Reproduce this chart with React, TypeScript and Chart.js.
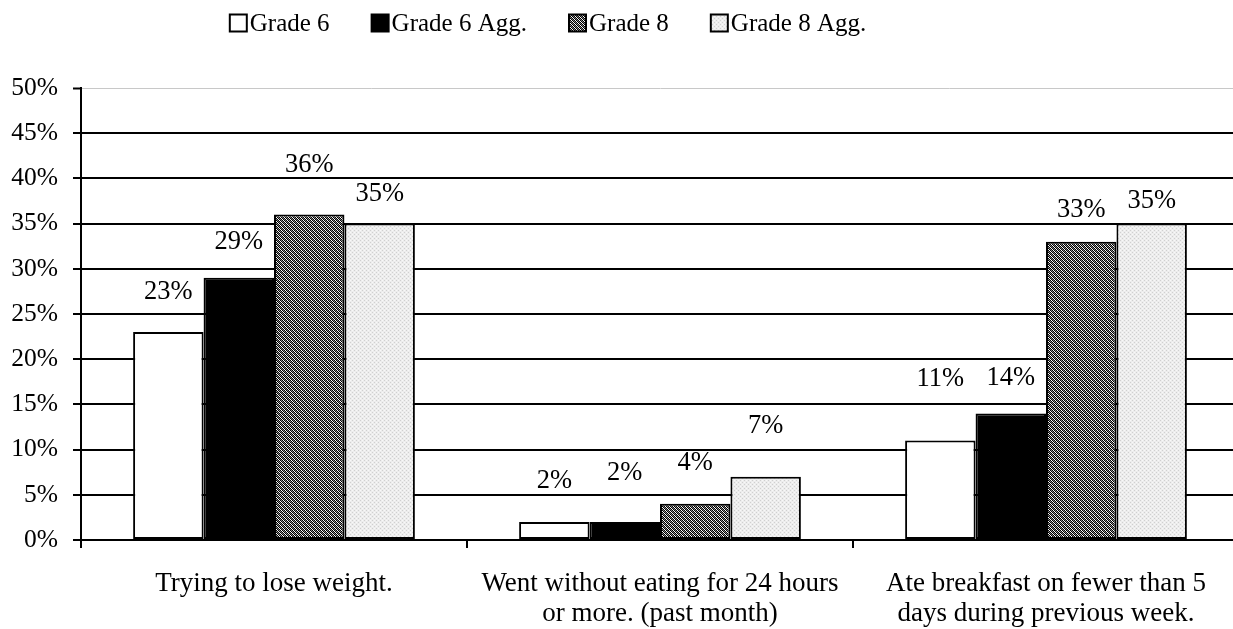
import React, { useEffect, useRef } from "react";
import { Chart, registerables } from "chart.js";

Chart.register(...registerables);

const categories: (string | string[])[] = [
  "Trying to lose weight.",
  ["Went without eating for 24 hours", "or more. (past month)"],
  ["Ate breakfast on fewer than 5", "days during previous week."],
];
const seriesNames = ["Grade 6", "Grade 6 Agg.", "Grade 8", "Grade 8 Agg."];
const grade6 = [23, 2, 11];
const grade6Agg = [29, 2, 14];
const grade8 = [36, 4, 33];
const grade8Agg = [35, 7, 35];
const tickValues = [0, 5, 10, 15, 20, 25, 30, 35, 40, 45, 50];
// vertical lift (px) of each value label above its bar, per series
const labelLift = [
  [40, 41, 62],
  [36, 49, 35],
  [50, 41, 32],
  [30, 51, 23],
];

const FONT = "'Liberation Serif', 'Times New Roman', serif";

function makePattern(kind: "hatch" | "dots"): CanvasPattern | string {
  const c = document.createElement("canvas");
  c.width = 4;
  c.height = 4;
  const ctx = c.getContext("2d");
  if (!ctx) return "#888";
  if (kind === "hatch") {
    ctx.fillStyle = "#ffffff";
    ctx.fillRect(0, 0, 4, 4);
    for (let x = 0; x < 4; x++)
      for (let y = 0; y < 4; y++) {
        if ((x + y) % 2 === 0) {
          ctx.fillStyle = "#000000";
          ctx.fillRect(x, y, 1, 1);
        } else if ((x - y + 4) % 4 === 1) {
          ctx.fillStyle = "#8a8a8a";
          ctx.fillRect(x, y, 1, 1);
        }
      }
  } else {
    ctx.fillStyle = "#ededed";
    ctx.fillRect(0, 0, 4, 4);
    ctx.fillStyle = "#d0d0d0";
    ctx.fillRect(0, 0, 1, 1);
    ctx.fillRect(2, 2, 1, 1);
    ctx.fillStyle = "#f8f8f8";
    ctx.fillRect(2, 0, 1, 1);
    ctx.fillRect(0, 2, 1, 1);
  }
  return ctx.createPattern(c, "repeat") || "#888";
}

export default function App() {
  const ref = useRef<HTMLCanvasElement>(null);
  useEffect(() => {
    document.body.style.margin = "0";
    document.body.style.overflow = "hidden";
    const canvas = ref.current;
    if (!canvas) return;
    const fills: (string | CanvasPattern)[] = [
      "#ffffff",
      "#000000",
      makePattern("hatch"),
      makePattern("dots"),
    ];
    const values = [grade6, grade6Agg, grade8, grade8Agg];

    const valueLabels = {
      id: "valueLabels",
      afterDatasetsDraw(chart: any) {
        const ctx = chart.ctx;
        ctx.save();
        ctx.font = `26.5px ${FONT}`;
        ctx.fillStyle = "#000";
        ctx.textAlign = "center";
        ctx.textBaseline = "middle";
        chart.data.datasets.forEach((ds: any, di: number) => {
          const meta = chart.getDatasetMeta(di);
          meta.data.forEach((bar: any, i: number) => {
            ctx.fillText(`${ds.data[i]}%`, bar.x, bar.y - labelLift[di][i]);
          });
        });
        ctx.restore();
      },
    };

    const customLegend = {
      id: "customLegend",
      afterDraw(chart: any) {
        const ctx = chart.ctx;
        ctx.save();
        ctx.font = `25px ${FONT}`;
        const box = 17;
        const gap = 3;
        const itemGap = 42;
        const widths = seriesNames.map((n) => box + gap + ctx.measureText(n).width);
        const total = widths.reduce((a, b) => a + b, 0) + itemGap * (seriesNames.length - 1);
        let x = 548 - total / 2;
        const cy = 23;
        seriesNames.forEach((n, i) => {
          ctx.fillStyle = fills[i];
          ctx.fillRect(x, cy - box / 2, box, box);
          ctx.lineWidth = 2;
          ctx.strokeStyle = "#000";
          ctx.strokeRect(x, cy - box / 2, box, box);
          ctx.fillStyle = "#000";
          ctx.textAlign = "left";
          ctx.textBaseline = "middle";
          ctx.fillText(n, x + box + gap, cy + 1);
          x += widths[i] + itemGap;
        });
        ctx.restore();
      },
    };

    const chart = new Chart(canvas, {
      type: "bar",
      data: {
        labels: categories,
        datasets: seriesNames.map((name, i) => ({
          label: name,
          data: values[i],
          backgroundColor: fills[i] as any,
          borderColor: "#000",
          borderWidth: 2,
          borderSkipped: false,
          categoryPercentage: 0.73,
          barPercentage: 1,
        })),
      },
      options: {
        responsive: false,
        animation: false,
        layout: { padding: { top: 88, right: 6, left: 0, bottom: 0 } },
        plugins: {
          legend: { display: false },
          tooltip: { enabled: false },
        },
        scales: {
          x: {
            grid: {
              drawOnChartArea: false,
              tickLength: 8,
              tickColor: "#000",
              lineWidth: 2,
              offset: true,
            },
            border: { color: "#000", width: 2 },
            ticks: {
              color: "#000",
              font: { family: FONT, size: 27, lineHeight: 1.11 },
              padding: 21,
              maxRotation: 0,
              autoSkip: false,
            },
            afterFit(scale: any) {
              scale.height = 89;
            },
          },
          y: {
            min: 0,
            max: 50,
            afterBuildTicks(scale: any) {
              scale.ticks = tickValues.map((v) => ({ value: v }));
            },
            grid: {
              color: (c: any) => (c.tick && c.tick.value === 50 ? "#c8c8c8" : "#000"),
              lineWidth: (c: any) => (c.tick && c.tick.value === 50 ? 1 : 2),
              tickColor: "#000",
              tickLength: 8,
              tickWidth: 2,
            },
            border: { color: "#000", width: 2 },
            ticks: {
              color: "#000",
              font: { family: FONT, size: 25.5 },
              padding: 15,
              callback: (v: any) => `${v}%`,
            },
            afterFit(scale: any) {
              scale.width = 81;
            },
          },
        },
      },
      plugins: [valueLabels, customLegend],
    });
    return () => chart.destroy();
  }, []);
  return <canvas ref={ref} width={1245} height={629} style={{ display: "block" }} />;
}
